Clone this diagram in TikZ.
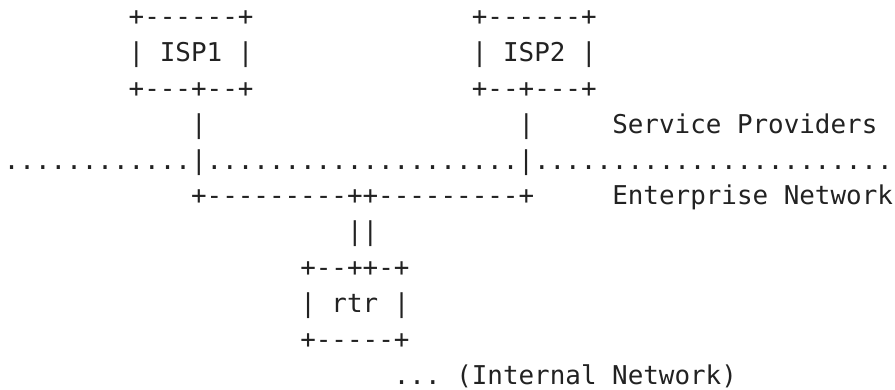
\documentclass[tikz,border=0pt]{standalone}
\usepackage{fontspec}
\setmonofont{DejaVu Sans Mono}
\definecolor{ink}{HTML}{222222}
\begin{document}
\begin{tikzpicture}[
  txt/.style={inner sep=0pt, outer sep=0pt, anchor=base west, text=ink,
    font=\ttfamily\fontsize{25.9pt}{36pt}\selectfont}]
\fill[white] (0pt,0pt) rectangle (895pt,-390pt);
\useasboundingbox (0pt,0pt) rectangle (895pt,-390pt);
\begin{scope}[shift={(3.9pt,-26pt)}, x=15.6pt, y=-35.8pt]
  \node[txt] (isp1top) at (8,0) {+------+};
  \node[txt] (isp2top) at (30,0) {+------+};
  \node[txt] (isp1) at (8,1) {| ISP1 |};
  \node[txt] (isp2) at (30,1) {| ISP2 |};
  \node[txt] (isp1bot) at (8,2) {+---+--+};
  \node[txt] (isp2bot) at (30,2) {+--+---+};
  \node[txt] (up1) at (12,3) {|};
  \node[txt] (up2) at (33,3) {|};
  \node[txt] (sp) at (39,3) {Service Providers};
  \node[txt] (border) at (0,4) {............|....................|.......................};
  \node[txt] (bus) at (12,5) {+---------++---------+};
  \node[txt] (en) at (39,5) {Enterprise Network};
  \node[txt] (link) at (22,6) {||};
  \node[txt] (rtrtop) at (19,7) {+--++-+};
  \node[txt] (rtr) at (19,8) {| rtr |};
  \node[txt] (rtrbot) at (19,9) {+-----+};
  \node[txt] (internal) at (25,10) {... (Internal Network)};
\end{scope}
\end{tikzpicture}
\end{document}
